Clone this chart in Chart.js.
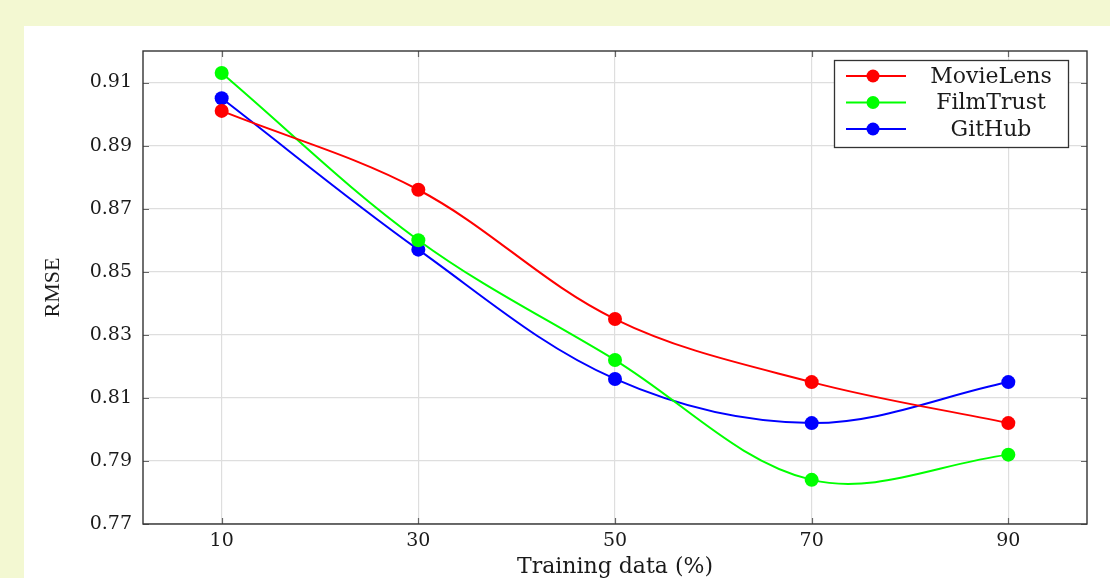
<!DOCTYPE html>
<html>
<head>
<meta charset="utf-8">
<script src="https://cdn.jsdelivr.net/npm/chart.js@4"></script>
<style>
  html, body { margin: 0; padding: 0; background: #f3f8d2; }
  #panel { position: absolute; left: 24px; top: 26px; width: 1086px; height: 552px; background: #fff; }
  canvas { display: block; }
</style>
</head>
<body>
<div id="panel"><canvas id="rmseChart" width="1086" height="552"></canvas></div>
<script>
// Training data share (%) on x, RMSE on y
const trainingData = [10, 30, 50, 70, 90];
const movieLens = [0.901, 0.876, 0.835, 0.815, 0.802];
const filmTrust = [0.913, 0.860, 0.822, 0.784, 0.792];
const gitHub = [0.905, 0.857, 0.816, 0.802, 0.815];
const yTicks = [0.77, 0.79, 0.81, 0.83, 0.85, 0.87, 0.89, 0.91];

const seriesNames = ['MovieLens', 'FilmTrust', 'GitHub'];
const seriesColors = ['#ff0000', '#00ff00', '#0000ff'];

function toPoints(values) {
    return trainingData.map(function(x, i) { return {x: x, y: values[i]}; });
}

// pgfplots-style frame with inward tick marks
const framePlugin = {
    id: 'frame',
    beforeDatasetsDraw: function(chart) {
        const ctx = chart.ctx;
        const a = chart.chartArea;
        const xs = chart.scales.x, ys = chart.scales.y;
        ctx.save();
        ctx.strokeStyle = '#666';
        ctx.lineWidth = 1.2;
        ctx.beginPath();
        trainingData.forEach(function(v) {
            const px = Math.round(xs.getPixelForValue(v)) + 0.5;
            ctx.moveTo(px, a.bottom); ctx.lineTo(px, a.bottom - 6);
            ctx.moveTo(px, a.top); ctx.lineTo(px, a.top + 6);
        });
        yTicks.forEach(function(v) {
            const py = Math.round(ys.getPixelForValue(v)) + 0.5;
            ctx.moveTo(a.left, py); ctx.lineTo(a.left + 6, py);
            ctx.moveTo(a.right, py); ctx.lineTo(a.right - 6, py);
        });
        ctx.stroke();
        ctx.strokeStyle = '#333';
        ctx.lineWidth = 1.4;
        ctx.strokeRect(a.left, a.top, a.right - a.left, a.bottom - a.top);
        ctx.restore();
    }
};

// boxed legend in the top-right corner
const legendPlugin = {
    id: 'boxLegend',
    afterDraw: function(chart) {
        const ctx = chart.ctx;
        const bx = 810, by = 34, bw = 234, bh = 87;
        ctx.save();
        ctx.fillStyle = '#fff';
        ctx.fillRect(bx, by, bw, bh);
        ctx.strokeStyle = '#333';
        ctx.lineWidth = 1.3;
        ctx.strokeRect(bx + 0.5, by + 0.5, bw, bh);
        ctx.font = '22px "DejaVu Serif"';
        ctx.textAlign = 'center';
        ctx.textBaseline = 'middle';
        seriesNames.forEach(function(name, i) {
            const cy = by + 16 + i * 26.5;
            ctx.strokeStyle = seriesColors[i];
            ctx.lineWidth = 2;
            ctx.beginPath();
            ctx.moveTo(bx + 12, cy); ctx.lineTo(bx + 72, cy);
            ctx.stroke();
            ctx.fillStyle = seriesColors[i];
            ctx.beginPath();
            ctx.arc(bx + 39, cy, 6.5, 0, Math.PI * 2);
            ctx.fill();
            ctx.fillStyle = '#1a1a1a';
            ctx.fillText(name, bx + 157, cy + 1);
        });
        ctx.restore();
    }
};

const ctx = document.getElementById('rmseChart').getContext('2d');
new Chart(ctx, {
    type: 'line',
    data: {
        datasets: [movieLens, filmTrust, gitHub].map(function(vals, i) {
            return {
                label: seriesNames[i],
                data: toPoints(vals),
                borderColor: seriesColors[i],
                backgroundColor: seriesColors[i],
                borderWidth: 2,
                pointRadius: 7,
                pointHoverRadius: 7,
                pointBorderWidth: 0,
                tension: 0.35,
                fill: false
            };
        })
    },
    options: {
        responsive: false,
        animation: false,
        layout: { padding: { left: 12, top: 25, right: 23, bottom: 0 } },
        plugins: {
            legend: { display: false },
            tooltip: { enabled: false }
        },
        scales: {
            x: {
                type: 'linear',
                min: 2,
                max: 98,
                afterBuildTicks: function(scale) {
                    scale.ticks = trainingData.map(function(v) { return {value: v}; });
                },
                afterFit: function(scale) { scale.height = 54; },
                grid: { color: '#dedede', lineWidth: 1.2, drawTicks: false },
                border: { display: false },
                ticks: {
                    padding: 6,
                    color: '#1a1a1a',
                    font: { family: 'DejaVu Serif', size: 19 },
                    callback: function(v) { return String(v); }
                },
                title: {
                    display: true,
                    text: 'Training data (%)',
                    color: '#1a1a1a',
                    padding: { top: 4, bottom: -2 },
                    font: { family: 'DejaVu Serif', size: 22 }
                }
            },
            y: {
                min: 0.77,
                max: 0.92,
                afterBuildTicks: function(scale) {
                    scale.ticks = yTicks.map(function(v) { return {value: v}; });
                },
                afterFit: function(scale) { scale.width = 107; },
                grid: { color: '#dedede', lineWidth: 1.2, drawTicks: false },
                border: { display: false },
                ticks: {
                    padding: 11,
                    color: '#1a1a1a',
                    font: { family: 'DejaVu Serif', size: 19 },
                    callback: function(v) { return v.toFixed(2); }
                },
                title: {
                    display: true,
                    text: 'RMSE',
                    color: '#1a1a1a',
                    font: { family: 'Liberation Serif', size: 22 }
                }
            }
        }
    },
    plugins: [framePlugin, legendPlugin]
});
</script>
</body>
</html>
